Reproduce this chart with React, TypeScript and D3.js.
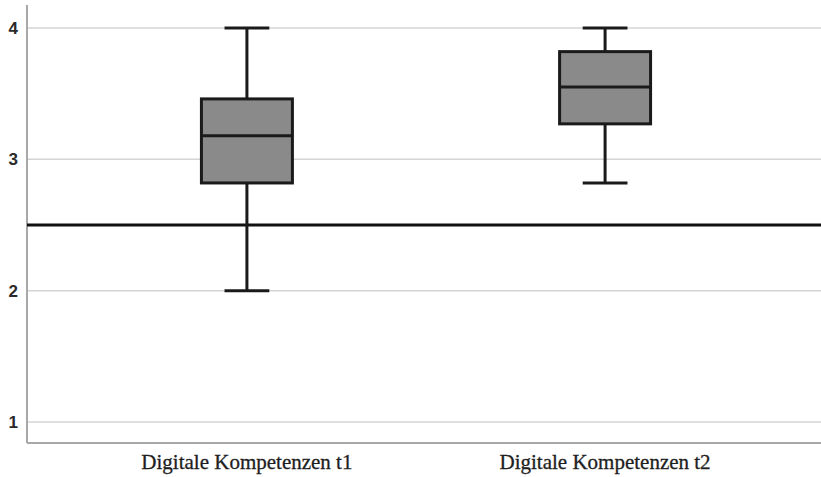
import React from "react";
import * as d3 from "d3";

// values
const categories = ["Digitale Kompetenzen t1", "Digitale Kompetenzen t2"];
const whiskerLow = [2.0, 2.82];
const quartile1 = [2.82, 3.27];
const medians = [3.18, 3.55];
const quartile3 = [3.46, 3.82];
const whiskerHigh = [4.0, 4.0];
const yTicks = [1, 2, 3, 4];
const referenceValue = 2.5;

const width = 821;
const height = 477;
const margin = { top: 5, right: -4, bottom: 34, left: 27 };

const App: React.FC = () => {
  const x = d3
    .scalePoint<string>()
    .domain(categories)
    .range([margin.left, width - margin.right])
    .padding(0.614);

  const y = d3
    .scaleLinear()
    .domain([0.84, 4.175])
    .range([height - margin.bottom, margin.top]);

  const step = x.step();
  const boxW = step * 0.254;
  const capW = step * 0.125;

  const boxes = categories.map((c, i) => ({
    cat: c,
    lo: whiskerLow[i],
    q1: quartile1[i],
    med: medians[i],
    q3: quartile3[i],
    hi: whiskerHigh[i],
  }));

  const plotRight = width;
  const plotBottom = height - margin.bottom;

  return (
    <div style={{ position: "absolute", left: 0, top: 0 }}>
      <svg width={width} height={height} style={{ display: "block", background: "#fff" }}>
        {/* gridlines */}
        {yTicks.map((t) => (
          <line
            key={"g" + t}
            x1={margin.left}
            x2={plotRight}
            y1={y(t)}
            y2={y(t)}
            stroke="#d4d4d4"
            strokeWidth={1.5}
          />
        ))}

        {/* y tick labels */}
        {yTicks.map((t) => (
          <text
            key={"t" + t}
            x={18}
            y={y(t)}
            dy="0.36em"
            textAnchor="end"
            fontFamily="Arial, 'Liberation Sans', sans-serif"
            fontSize={17}
            fontWeight="bold"
            fill="#2a2a2a"
          >
            {t}
          </text>
        ))}

        {/* axes */}
        <line x1={margin.left} x2={margin.left} y1={margin.top} y2={plotBottom} stroke="#a8a8a8" strokeWidth={2} />
        <line x1={margin.left} x2={plotRight} y1={plotBottom} y2={plotBottom} stroke="#a8a8a8" strokeWidth={2} />

        {/* reference line */}
        <line
          x1={margin.left}
          x2={plotRight}
          y1={y(referenceValue)}
          y2={y(referenceValue)}
          stroke="#111"
          strokeWidth={3}
        />

        {boxes.map((b) => {
          const cx = x(b.cat)!;
          return (
            <g key={b.cat} stroke="#1a1a1a" strokeWidth={3}>
              <line x1={cx} x2={cx} y1={y(b.hi)} y2={y(b.q3)} />
              <line x1={cx} x2={cx} y1={y(b.q1)} y2={y(b.lo)} />
              <line x1={cx - capW / 2} x2={cx + capW / 2} y1={y(b.hi)} y2={y(b.hi)} />
              <line x1={cx - capW / 2} x2={cx + capW / 2} y1={y(b.lo)} y2={y(b.lo)} />
              <rect
                x={cx - boxW / 2}
                y={y(b.q3)}
                width={boxW}
                height={y(b.q1) - y(b.q3)}
                fill="#8a8a8a"
              />
              <line x1={cx - boxW / 2} x2={cx + boxW / 2} y1={y(b.med)} y2={y(b.med)} />
            </g>
          );
        })}

        {/* category labels */}
        {categories.map((c) => (
          <text
            key={"c" + c}
            x={x(c)!}
            y={469}
            textAnchor="middle"
            fontFamily="'Liberation Serif', 'Times New Roman', serif"
            fontSize={21}
            fill="#1e1e1e"
            stroke="#1e1e1e"
            strokeWidth={0.3}
          >
            {c}
          </text>
        ))}
      </svg>
    </div>
  );
};

export default App;
